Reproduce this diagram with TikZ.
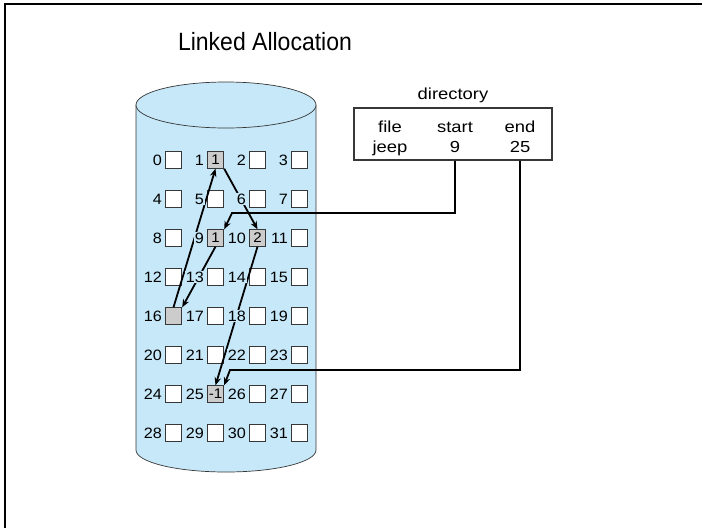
\documentclass[tikz,border=0pt]{standalone}
\usepackage{fontspec}
\setmainfont{Liberation Sans}
\newfontfamily\titlefont[FakeStretch=0.92]{Liberation Sans}
\newfontfamily\figfont[FakeStretch=1.15]{Liberation Sans}
\newfontfamily\numfont[FakeStretch=1.08]{Liberation Sans}
\usetikzlibrary{arrows.meta}
\definecolor{diskblue}{RGB}{198,232,248}
\definecolor{blockgray}{RGB}{204,204,204}
\definecolor{edgegray}{RGB}{55,55,55}

\begin{document}
\begin{tikzpicture}[x=1pt,y=-1pt,
  block/.style={draw=edgegray,line width=0.9pt,fill=white,minimum size=16.5pt,
    inner sep=0pt,font=\numfont\fontsize{14}{14}\selectfont},
  usedblock/.style={block,fill=blockgray},
  blabel/.style={anchor=east,inner sep=0.6pt,fill=diskblue,
    font=\numfont\fontsize{15}{15}\selectfont},
  dirtext/.style={anchor=base,inner sep=0pt,font=\figfont\fontsize{16}{16}\selectfont},
  link/.style={line width=1.8pt,-{Stealth[length=8pt,width=6.5pt]}}]
\useasboundingbox (0,0) rectangle (702,528);

% slide frame
\draw[line width=2pt] (5,528) -- (5,4) -- (702,4);

% title
\node[anchor=base,inner sep=0pt,font=\titlefont\fontsize{25}{25}\selectfont]
  (title) at (265,50) {Linked Allocation};

% disk cylinder
\path[fill=diskblue,draw=edgegray,line width=0.7pt]
  (136,105) -- (136,450)
  arc[start angle=180,end angle=0,x radius=90,y radius=22]
  -- (316,105);
\path[fill=diskblue,draw=edgegray,line width=0.7pt]
  (226,105) ellipse[x radius=90,y radius=23];

% free blocks
\foreach \i in {0,2,3,4,5,6,7,8,11,12,13,14,15,17,18,19,20,21,22,23,24,26,27,28,29,30,31}{
  \pgfmathtruncatemacro\r{div(\i,4)}
  \pgfmathtruncatemacro\c{mod(\i,4)}
  \node[block] (b\i) at (173.5+42*\c,160+39*\r) {};
}
% blocks of the file jeep
\node[usedblock] (b1)  at (215.5,160) {1};
\node[usedblock] (b9)  at (215.5,238) {1};
\node[usedblock] (b10) at (257.5,238) {2};
\node[usedblock] (b16) at (173.5,316) {};
\node[usedblock] (b25) at (215.5,394) {-1};

% directory
\node[dirtext] (dirtitle) at (453,99) {directory};
\node[draw=edgegray,line width=1.6pt,minimum width=198pt,minimum height=52pt,inner sep=0pt]
  (dir) at (453,134) {};
\node[dirtext] (hfile)  at (390,132) {file};
\node[dirtext] (hstart) at (455,132) {start};
\node[dirtext] (hend)   at (520,132) {end};
\node[dirtext] (vfile)  at (390,152) {jeep};
\node[dirtext] (v9)     at (455,152) {9};
\node[dirtext] (v25)    at (520,152) {25};

% pointers from the directory
\coordinate (sbend) at (232,213);
\coordinate (ebend) at (230,370);
\draw[link] (v9 |- dir.south) |- (sbend) -- (b9.north east);
\draw[link] (v25 |- dir.south) |- (ebend) -- (b25.north east);

% chain 9 -> 16 -> 1 -> 10 -> 25
\draw[link] (b9.south) -- (b16.north east);
\draw[link] (b16.north) -- (b1.south);
\draw[link] (b1.south east) -- (b10.north);
\draw[link] (b10.south) -- (b25.north);

% block numbers (drawn last so the links pass behind them)
\foreach \i in {0,...,31}{
  \node[blabel] (l\i) at ([xshift=-2pt]b\i.west) {\i};
}
\end{tikzpicture}
\end{document}
